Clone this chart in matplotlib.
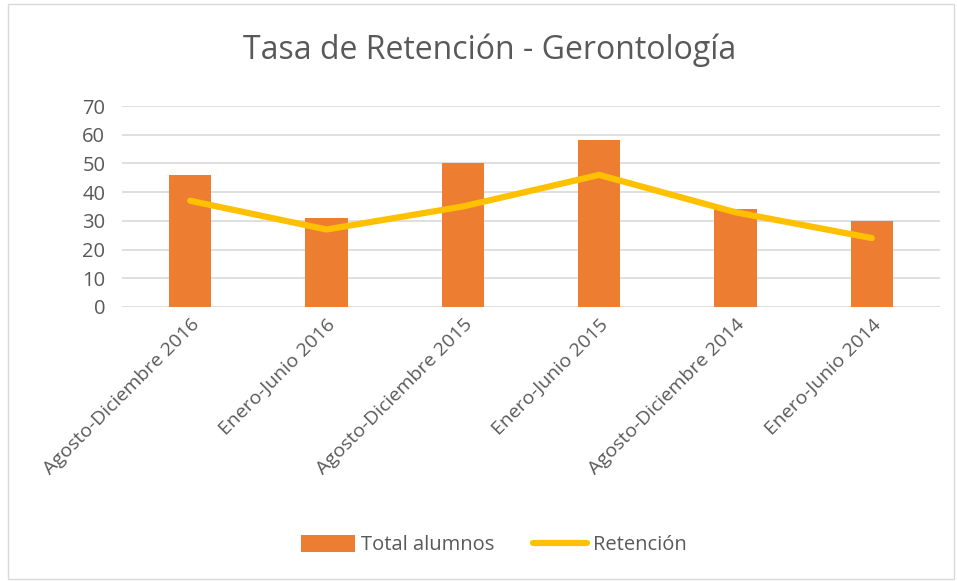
import numpy as np
import matplotlib.pyplot as plt

plt.rcParams['font.family'] = ['Open Sans', 'DejaVu Sans']

categorias = ['Agosto-Diciembre 2016', 'Enero-Junio 2016', 'Agosto-Diciembre 2015',
              'Enero-Junio 2015', 'Agosto-Diciembre 2014', 'Enero-Junio 2014']
total_alumnos = [46, 31, 50, 58, 34, 30]
retencion = [37, 27, 35, 46, 33, 24]

gris = '#595959'

fig = plt.figure(figsize=(9.57, 5.82), dpi=100)
ax = fig.add_axes([122 / 957, 1 - 307 / 582, (940 - 122) / 957, (307 - 106) / 582])

x = np.arange(len(categorias))
barras = ax.bar(x, total_alumnos, width=0.31, color='#ED7D31', label='Total alumnos', zorder=2)
linea, = ax.plot(x, retencion, color='#FFC000', lw=4.5, solid_capstyle='round',
                 solid_joinstyle='round', label='Retención', zorder=3)

ax.set_xlim(-0.5, len(categorias) - 0.5)
ax.set_ylim(0, 70)
ax.set_yticks(range(0, 80, 10))
ax.grid(axis='y', color='#D9D9D9', lw=1.2, zorder=0)
for s in ax.spines.values():
    s.set_visible(False)
ax.tick_params(length=0, labelsize=14.5, labelcolor=gris)
ax.tick_params(axis='x', labelsize=14)
ax.tick_params(axis='y', pad=12)
ax.tick_params(axis='x', pad=6)
ax.set_xticks(x)
ax.set_xticklabels(categorias, rotation=45, ha='right', rotation_mode='anchor')

fig.text(490 / 957, 1 - 50 / 582, 'Tasa de Retención - Gerontología', ha='center', va='center',
         fontsize=23, color=gris)

fig.legend([barras, linea], ['Total alumnos', 'Retención'], loc='center',
           bbox_to_anchor=(494 / 957, 1 - 545 / 582), ncol=2, frameon=False,
           fontsize=14.5, labelcolor=gris, handlelength=2.7, handleheight=0.9,
           columnspacing=1.9, handletextpad=0.3)

fig.patches.append(plt.Rectangle((8 / 957, 3 / 582), 946 / 957, 575 / 582, transform=fig.transFigure,
                                 fill=False, edgecolor='#D9D9D9', lw=1))

fig.savefig('out.png', dpi=100)
